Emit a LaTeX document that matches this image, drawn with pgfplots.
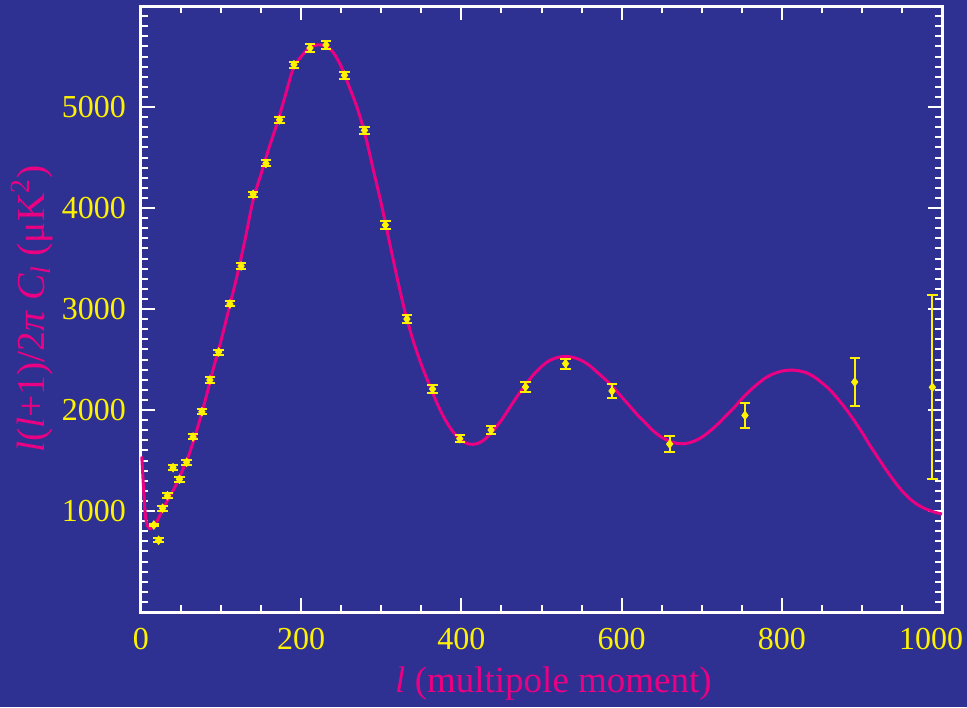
\documentclass[border=0pt]{standalone}
\usepackage{fontspec}
\setmainfont{Liberation Serif}
\usepackage{pgfplots}
\usepackage{pgfplotstable}
\pgfplotsset{compat=1.18}

\definecolor{bgblue}{RGB}{46,49,146}
\definecolor{cmbmag}{RGB}{234,0,130}
\definecolor{cmbyel}{RGB}{255,242,0}

% Band powers: multipole, l(l+1)C_l/2pi, 1-sigma error
\pgfplotstableread{
l    c     e
16   861   10
22   710   20
27   1027  25
33   1152  25
40   1429  25
48   1314  25
57   1482  25
65   1733  25
76   1983  25
86   2297  25
97   2574  25
111  3050  25
125  3426  25
140  4136  25
156  4442  30
173  4874  30
191  5419  30
211  5584  35
231  5614  38
254  5314  35
279  4769  35
305  3832  35
332  2901  35
364  2208  35
398  1716  35
437  1802  40
480  2228  45
530  2459  50
588  2188  66
660  1663  83
754  1947  122
891  2277  235
988  2225  910
}\bandpowers

% Best-fit model spectrum
\pgfplotstableread{
l    c
1    1540
3    1250
5    1000
7    880
10   830
14   835
20   900
30   1060
40   1200
50   1370
60   1560
70   1810
80   2090
90   2400
100  2690
110  3010
120  3330
130  3690
140  4080
150  4340
160  4600
170  4840
180  5110
190  5380
200  5500
210  5585
220  5615
230  5605
240  5540
250  5400
260  5200
270  4990
280  4720
290  4380
300  4040
310  3670
320  3300
330  2960
340  2680
350  2450
360  2250
370  2060
380  1900
390  1780
400  1700
410  1662
420  1668
430  1715
440  1800
450  1900
460  2020
470  2140
480  2250
490  2350
500  2430
510  2490
520  2520
530  2530
540  2520
550  2490
560  2440
570  2370
580  2300
590  2220
600  2130
610  2040
620  1950
630  1870
640  1790
650  1730
660  1690
670  1668
680  1668
690  1690
700  1730
710  1790
720  1860
730  1940
740  2020
750  2110
760  2190
770  2260
780  2320
790  2360
800  2385
810  2395
820  2390
830  2370
840  2330
850  2270
860  2200
870  2110
880  2010
890  1900
900  1780
910  1650
920  1530
930  1410
940  1300
950  1200
960  1120
970  1060
980  1020
990  990
1000 970
}\model

\begin{document}
\begin{tikzpicture}
\fill[bgblue] (-70.5pt,-47.5pt) rectangle (413pt,306pt);
\begin{axis}[
  at={(0,0)}, anchor=south west,
  scale only axis, width=400.5pt, height=303pt,
  xmin=0, xmax=1000, ymin=0, ymax=6000,
  axis line style={white, line width=1.5pt},
  xtick={0,200,...,1000},
  xticklabels={0,200,400,600,800,1000\hspace*{11pt}},
  minor xtick={50,100,...,950},
  ytick={1000,2000,...,5000},
  yticklabels={1000,2000,3000,4000,5000},
  minor ytick={100,200,...,5900},
  tick align=inside,
  major tick length=7pt, minor tick length=3.5pt,
  major tick style={white, line width=1pt},
  minor tick style={white, line width=1pt},
  ticklabel style={cmbyel, font=\fontsize{16}{18}\selectfont},
  xticklabel style={yshift=-4.5pt},
  yticklabel style={xshift=-4pt},
  /pgf/number format/assume math mode=true,
  scaled ticks=false,
  xlabel={\textit{l} (multipole moment)},
  ylabel={\textit{l}(\textit{l}+1)/2\textit{π} \textit{C}\raisebox{-0.35ex}{\fontsize{14}{15}\selectfont\textit{l}} (μK\textsuperscript{2})},
  label style={cmbmag, font=\fontsize{18.5}{22}\selectfont},
  xlabel style={at={(axis description cs:0.5,0)}, anchor=center, yshift=-36pt, xshift=6pt},
  ylabel style={at={(axis description cs:0,0.5)}, anchor=center, yshift=54.5pt,
    font=\fontsize{19.8}{23}\selectfont},
  clip=false,
]
\addplot[cmbmag, line width=1.5pt, smooth] table[x=l, y=c] {\model};
\addplot[cmbyel, only marks, mark=diamond*, mark size=2.1pt,
  mark options={cmbyel},
  error bars/.cd, y dir=both, y explicit,
  error bar style={cmbyel, line width=1pt},
  error mark options={rotate=90, mark size=2.6pt, line width=1pt, cmbyel}]
  table[x=l, y=c, y error=e] {\bandpowers};
\end{axis}
\pgfresetboundingbox
\useasboundingbox (-70.5pt,-47.5pt) rectangle (413pt,306pt);
\end{tikzpicture}
\end{document}
